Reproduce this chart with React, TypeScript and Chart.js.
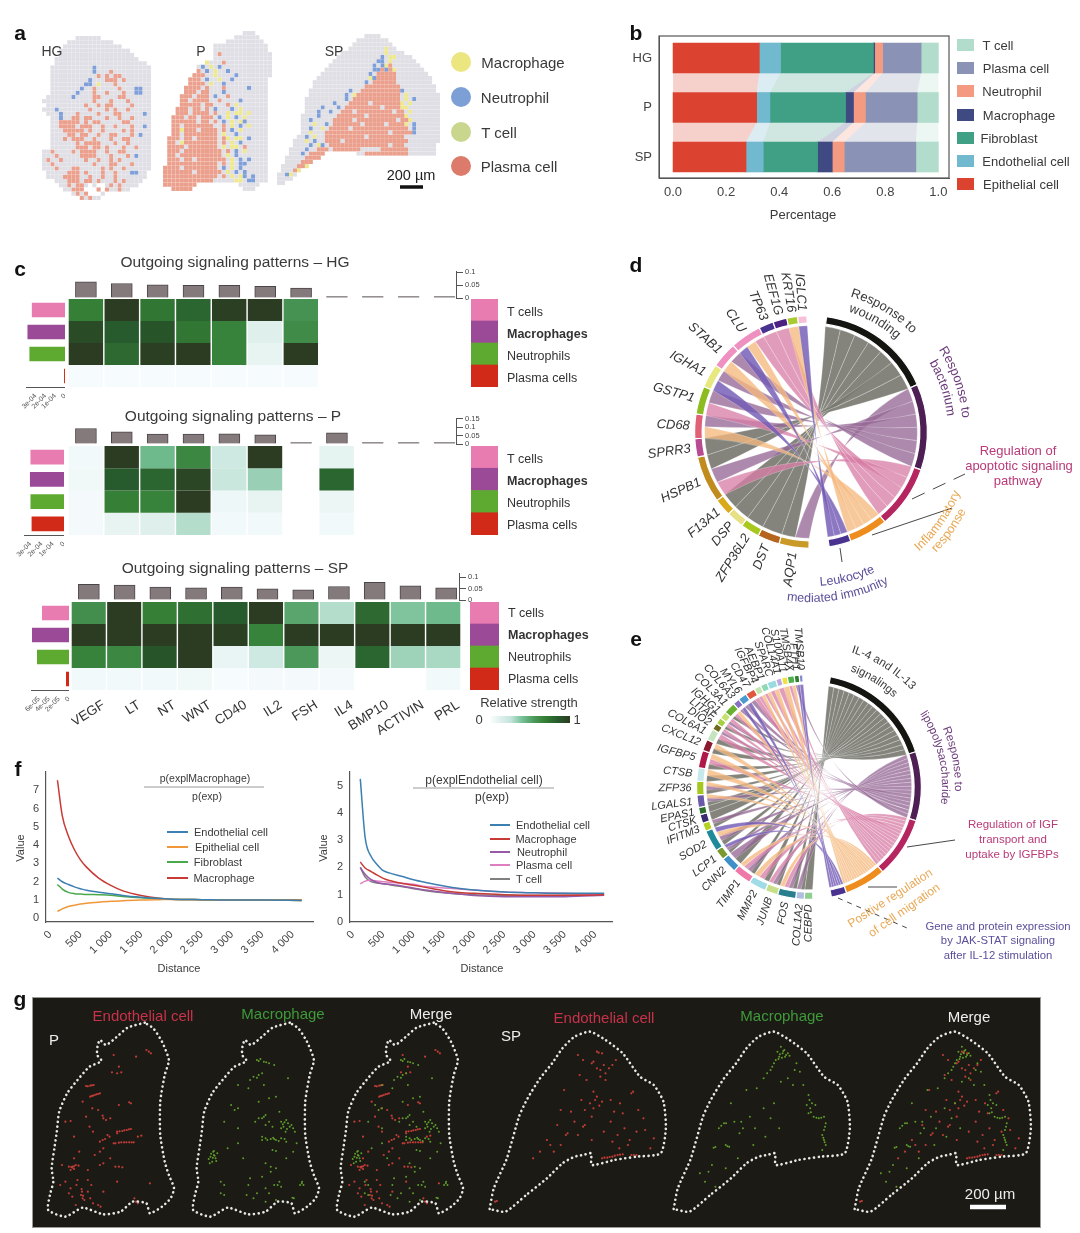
import React, { useEffect, useRef } from 'react';
import { Chart, registerables } from 'chart.js';

Chart.register(...registerables);
const FONT = '"Liberation Sans", Arial, sans-serif';
Chart.defaults.font.family = FONT;

/* ---------- a: spot maps (. tissue, p plasma, n neutrophil, m macrophage) ---------- */
const hgSpots = [
"        ......",
"      ...........",
"     ..............",
"    .................",
"    ..................",
"   ....................",
"   ......................",
"  ..........n.............",
"  ..........n...p.........",
"  ...........p.p.pp.......",
"  .........n...ppp.p......",
"  ........nn.m...p........",
"  .......n..p.....p...nn..",
"  ......n...p..p...p..nn..",
" ......n....pp....pp......",
"............p...p...p.....",
" .........p..p.pp....p....",
"...n.......p...p.p..p.....",
" ...n...p....p...pp.....n.",
"  ..n..pp.pp...p..p..p....",
"  ..ppppp.p.pp.....pp.....",
"  ..pppp.ppp..p..p...p..n.",
"  ...ppppp.p..p....p.p....",
"  ....pp.pp..p..pp...p.n..",
"  ...p.ppp..p...p..pp.....",
"  ......p.pppp...p..p.....",
"  ......ppp.pp.p...p..p...",
"..p....p.pppp..p..pp......",
"...p.....pppp...p...p.n...",
".p..p.....p..p..p.p.......",
"..p.........p...pp...p....",
"...p...pp.....p.p..p......",
" .....ppp.p...p..p...nn..",
" ....pppp..p..p..p.......",
"   ...ppp.pp.p...p.p....",
"    ..p.pp. .  .p.p....",
"     ..ppp   p p..p..",
"       .p.p   .",
"         p.p..",
];
const pSpots = [
"                   ...",
"                 ......",
"               .........",
"            .............",
"            .............",
"            .p............",
"            ..............",
"          m...p...........",
"        .n.m.n............",
"        p.n.m..n..........",
"       ppp..m....n........",
"      ppp.n..m..n........",
"      pppp.m..n..........",
"     pppp.p...p.....n....",
"     ppp.pp...n..........",
"    ppp.ppp.n..p.........",
"    pp.pppp..p....n......",
"    ppppp.pp...p.m.......",
"   ppp.pp.p.n...n.m......",
"   ppp.pppp.p..m.mm.m....",
"  ppp.pp.ppp.n.m.n.m.....",
"  pppppp.pp.p.n.m.mn.....",
"  pp.ppppppp..p.m.n.m....",
"  ppmppp.pppp.p.n.m......",
"  pp.pppppppp.m..n.......",
" ppp.pp.ppppp.pm.mm.n....",
" pp.mpppppppp.p.m.n......",
" pppp.ppppppp.m.mm.p.....",
" ppp.ppppppppp.p.n.m.....",
" pp.pppppppppp.m.n.......",
" ppp.pp.ppppppp.m.n.n....",
" pppppppppppp.p.m.nn.....",
"pppp.pppppppp.n.m.n......",
"ppppppp.pppppp.m.n.n.....",
"ppppppppppppp.p.m.mn.n...",
"pppppppppppp.....mm.nn...",
"pppppppp          .....",
"  ppppp            ...",
];
const spSpots = [
"                      ....",
"                    ........",
"                   ..........",
"                  .........m..",
"                ...........m....",
"               ...........n.mm....",
"              ...........nn.m......",
"             ...........n.nmp.......",
"            ............nnpnpm.......",
"           ............n.ppppp........",
"          .............mnppppp.........",
"         .............n.pppppp.........",
"         .............ppppppppp.........",
"        ..........n..ppppppppppn........",
"        .........n.mppppppppppp.m........",
"       ..........n.pppppppppppp.m.n......",
"       .......n...ppppp.pppppppm.m.......",
"       ....n...n.ppppppppp.ppppmm........",
"       ...n..n..ppp.ppppppppp.pp.m.......",
"      ....n....ppppppp.pppppppppm........",
"      ..n.....ppppp.pppppppppp.ppm.......",
"      ...m..n.ppppppp.ppppp.ppppm.n......",
"      ..n..m.ppppp.pppppppppppppp.n......",
"      ..m...pppppppppppppppp.pppppn......",
"     ..n.m..pppppppppp.ppppppppp.........",
"    ...m.n..pppp.pppppppppppppppp........",
"    ....n.mn.ppppppppppppppp.ppp........",
"   ....n..ppp.ppppppp.....ppppppp.......",
"   ...n.pppp        ..ppppppppppp.......",
"  .....pppp",
"  ....ppp",
" ....ppm",
" ...pm",
"..nm.",
"....",
"..",
];
const spotKinds = ['.', 'p', 'n', 'm'];
const spotColors = ['#dfdfe5', '#eb9f8d', '#7f9fd8', '#eee88e'];

/* ---------- b ---------- */
const bTissues = ['HG', 'P', 'SP'];
const bCellTypes = ['Epithelial cell', 'Endothelial cell', 'Fibroblast', 'Macrophage', 'Neutrophil', 'Plasma cell', 'T cell'];
const bHG = [0.325, 0.08, 0.35, 0.005, 0.03, 0.145, 0.065];
const bP = [0.315, 0.05, 0.285, 0.03, 0.045, 0.195, 0.08];
const bSP = [0.275, 0.065, 0.205, 0.055, 0.045, 0.27, 0.085];
const bColors = ['#dc4230', '#70b9cf', '#3fa085', '#3f4a82', '#f49a80', '#8a93b5', '#b2dccb'];
const bTicks = [0, 0.2, 0.4, 0.6, 0.8, 1];

/* ---------- c ---------- */
const signals = ['VEGF', 'LT', 'NT', 'WNT', 'CD40', 'IL2', 'FSH', 'IL4', 'BMP10', 'ACTIVIN', 'PRL'];
const rowNames = ['T cells', 'Macrophages', 'Neutrophils', 'Plasma cells'];
const rowColors = ['#e87bb0', '#9b4a97', '#5eaa30', '#d22a18'];
const hgMatrix = [
  [0.68, 1, 0.72, 0.8, 0.98, 1, 0.58],
  [0.92, 0.85, 0.88, 0.72, 0.66, 0.12, 0.62],
  [1, 0.78, 0.98, 1, 0.66, 0.08, 1],
  [0.01, 0.01, 0.01, 0.01, 0.01, 0.01, 0.01],
];
const pMatrix = [
  [0.03, 1, 0.42, 0.64, 0.2, 1, null, 0.09],
  [0.04, 0.85, 0.8, 0.95, 0.22, 0.33, null, 0.8],
  [0.02, 0.68, 0.66, 1, 0.05, 0.08, null, 0.06],
  [0.02, 0.08, 0.12, 0.28, 0.03, 0.03, null, 0.03],
];
const spMatrix = [
  [0.6, 1, 0.68, 0.75, 0.85, 1, 0.5, 0.28, 0.78, 0.38, 0.42],
  [1, 1, 1, 1, 0.98, 0.66, 1, 1, 1, 1, 1],
  [0.66, 0.64, 0.88, 1, 0.07, 0.2, 0.55, 0.06, 0.8, 0.32, 0.3],
  [0.03, 0.03, 0.03, 0.04, 0.01, 0.02, 0.02, 0.02, null, null, 0.03],
];
const hgTop = [0.062, 0.056, 0.051, 0.049, 0.049, 0.045, 0.038, 0, 0, 0, 0];
const pTop = [0.091, 0.071, 0.058, 0.058, 0.06, 0.054, 0, 0.065, 0, 0, 0];
const spTop = [0.068, 0.065, 0.056, 0.053, 0.056, 0.049, 0.044, 0.059, 0.077, 0.062, 0.053];
const hgTopTicks = [0, 0.05, 0.1];
const pTopTicks = [0, 0.05, 0.1, 0.15];
const hgLeft = [3.4e-4, 3.85e-4, 3.65e-4, 0.1e-4];
const pLeft = [3.0e-4, 3.05e-4, 3.0e-4, 2.9e-4];
const spLeft = [5.4e-5, 7.4e-5, 6.4e-5, 0.6e-5];
const hgLeftTicks = [0, 1e-4, 2e-4, 3e-4];
const spLeftTicks = [0, 2e-5, 4e-5, 6e-5];
const heatStops: [number, string][] = [
  [0, '#f8fcfe'], [0.1, '#e3f2ef'], [0.25, '#c4e4da'], [0.4, '#74bf94'], [0.55, '#4b985a'],
  [0.68, '#357f36'], [0.85, '#275a2c'], [1, '#2c3c22'],
];

/* ---------- d ---------- */
const dTerms = ['Response to wounding', 'Response to bacterium', 'Regulation of apoptotic signaling pathway', 'Inflammatory response', 'Leukocyte mediated immunity'];
const dTermSizes = [58.3, 43, 31.6, 19.4, 11];
const dGenes = ['AQP1', 'DST', 'ZFP36L2', 'DSP', 'F13A1', 'HSPB1', 'SPRR3', 'CD68', 'GSTP1', 'IGHA1', 'STAB1', 'CLU', 'TP63', 'EEF1G', 'KRT16', 'IGLC1'];
const dGeneSizes = [15, 11, 9.5, 8.7, 8.8, 23.5, 9.2, 12.3, 14, 12, 13, 15.6, 7.4, 7, 5.4, 4.6];
const dGeneColors = ['#c99a28', '#b5651d', '#a8c81e', '#e8e085', '#d9a91a', '#c08c1e', '#b84a92', '#e06078', '#8cbc20', '#e8e880', '#ee90c0', '#ee90c0', '#4a3291', '#4a2080', '#a8cc30', '#f8c0d8'];
const dLinks = ['10', '0', '0', '0', '0', '210', '0', '31', '21', '41', '31', '432', '2', '2', '3', '4'];

/* ---------- e ---------- */
const eTerms = ['IL-4 and IL-13 signalings', 'Response to lipopolysaccharide', 'Regulation of IGF transport and uptake by IGFBPs', 'Positive regulation of cell migration', 'Gene and protein expression by JAK-STAT signaling after IL-12 stimulation'];
const eTermSizes = [60.7, 35.8, 31.5, 21.5, 8];
const eGenes = ['CEBPD', 'COL1A2', 'FOS', 'JUNB', 'MMP2', 'TIMP1', 'CNN2', 'LCP1', 'SOD2', 'IFITM3', 'CTSK', 'EPAS1', 'LGALS1', 'ZFP36', 'CTSB', 'IGFBP5', 'CXCL12', 'COL6A1', 'DIO2', 'LITAF', 'IGHG1', 'COL3A1', 'COL6A3', 'MYL6', 'CD47', 'IGFBP4', 'AEBP1', 'SPARC', 'COL14A1', 'S100A11', 'TMSB4X', 'FTH1', 'TMSB10'];
const eGeneSizes = [4.4, 4.4, 9.5, 6.6, 9.1, 9.7, 8.3, 5.6, 11.2, 4.4, 4.6, 3.7, 6.5, 7, 7, 9, 6, 6, 3.5, 3.5, 3.8, 6, 3.5, 4.5, 5, 3.6, 3.6, 4.8, 3, 3, 3.6, 2.6, 1.8];
const eGeneColors = ['#8fcf8f', '#b0bde0', '#2a7f8f', '#c8de88', '#a0dce6', '#f078a8', '#3f90c8', '#7a9a30', '#1f8a9a', '#b5d020', '#3a2a70', '#2d6e2d', '#6a58a8', '#a5c81e', '#c5e8ea', '#b01848', '#8a1a30', '#c5e5c0', '#6e6a20', '#a5d040', '#c8e070', '#6ab030', '#8a70c0', '#4a9ad0', '#e05840', '#c5e5b0', '#8fd8b8', '#98dce0', '#c0a8e0', '#f0e040', '#50b050', '#2f7f2f', '#8888d0'];
const eLinks = ['0', '01', '0123', '012', '023', '0123', '01', '014', '0134', '01', '0', '0', '013', '013', '03', '023', '03', '02', '12', '02', '12', '023', '14', '14', '12', '23', '23', '23', '2', '3', '23', '14', '4'];

const termRingColors = ['#141410', '#4e1f54', '#b5255f', '#ee8c1e', '#4a3291'];
const ribbonColors = ['rgba(122,121,114,0.92)', 'rgba(150,105,150,0.78)', 'rgba(215,125,165,0.76)', 'rgba(245,185,125,0.78)', 'rgba(115,90,180,0.82)'];

/* ---------- f ---------- */
const distance = [120, 200, 300, 400, 500, 600, 800, 1000, 1200, 1500, 1800, 2000, 2500, 3000, 3500, 4150];
const f1Endothelial = [2.2, 2.0, 1.85, 1.72, 1.62, 1.53, 1.43, 1.35, 1.25, 1.15, 1.08, 1.05, 1.02, 1.0, 1.0, 0.98];
const f1Epithelial = [0.38, 0.52, 0.65, 0.72, 0.78, 0.82, 0.88, 0.93, 0.96, 1.0, 1.02, 1.03, 1.02, 1.0, 1.0, 0.98];
const f1Fibroblast = [1.85, 1.6, 1.42, 1.35, 1.33, 1.31, 1.29, 1.26, 1.2, 1.13, 1.08, 1.05, 1.02, 1.0, 1.0, 0.98];
const f1Macrophage = [7.55, 5.6, 4.5, 3.75, 3.2, 2.8, 2.2, 1.8, 1.5, 1.25, 1.1, 1.05, 1.02, 1.0, 1.0, 1.0];
const f2Endothelial = [5.25, 3.1, 2.4, 2.1, 1.88, 1.8, 1.68, 1.55, 1.45, 1.32, 1.22, 1.17, 1.1, 1.07, 1.05, 1.05];
const f2Macrophage = [2.2, 1.98, 1.85, 1.72, 1.6, 1.52, 1.42, 1.35, 1.27, 1.15, 1.07, 1.05, 1.0, 0.98, 0.98, 1.0];
const f2Neutrophil = [2.0, 1.75, 1.55, 1.45, 1.4, 1.38, 1.32, 1.25, 1.17, 1.08, 1.02, 0.97, 0.93, 0.93, 0.93, 0.98];
const f2Plasma = [1.4, 1.5, 1.53, 1.5, 1.48, 1.46, 1.42, 1.38, 1.3, 1.25, 1.2, 1.17, 1.1, 1.07, 1.05, 1.0];
const f2TCell = [2.0, 1.65, 1.48, 1.43, 1.4, 1.37, 1.3, 1.22, 1.15, 1.07, 1.02, 1.0, 0.98, 0.97, 0.98, 1.03];
const fXTicks = [0, 500, 1000, 1500, 2000, 2500, 3000, 3500, 4000];
const f1YTicks = [0, 1, 2, 3, 4, 5, 6, 7];
const f2YTicks = [0, 1, 2, 3, 4, 5];

/* ---------- g: tissue outlines and cell positions in section units ---------- */
const gOutlineP = [[420,113],[370,128],[345,150],[308,180],[290,165],[283,185],[282,210],[295,228],[260,245],[225,285],[195,325],[172,380],[165,440],[158,490],[150,550],[155,590],[145,630],[140,675],[190,695],[240,668],[300,688],[350,680],[385,650],[425,655],[435,685],[470,665],[495,640],[505,610],[490,570],[478,530],[465,450],[465,350],[478,270],[490,225],[470,170],[445,130],[420,113]];
const gOutlineSP = [[-146,672],[-134,610],[-96,520],[-61,395],[-36,340],[0,280],[35,235],[65,190],[100,155],[145,140],[190,165],[240,205],[290,275],[330,300],[358,350],[365,430],[350,505],[280,515],[215,525],[150,540],[148,505],[125,510],[100,515],[65,535],[20,580],[-40,630],[-100,680],[-146,672]];
const gRedP = [[425,195],[432,200],[438,205],[325,262],[340,265],[352,262],[250,303],[262,302],[272,300],[262,335],[270,332],[280,328],[290,325],[345,360],[380,355],[375,352],[268,370],[285,375],[298,392],[308,405],[260,425],[205,408],[215,455],[340,440],[355,438],[368,435],[380,432],[330,475],[345,473],[360,472],[375,472],[388,472],[400,455],[410,452],[290,470],[305,462],[312,450],[318,455],[300,490],[290,500],[275,510],[200,545],[210,548],[220,540],[228,542],[205,555],[335,545],[345,545],[355,547],[290,540],[300,535],[225,585],[222,600],[175,600],[200,625],[205,610],[238,620],[235,630],[240,640],[245,645],[220,660],[270,655],[285,660],[292,665],[390,640],[395,650],[400,655],[435,595],[265,600],[255,585],[255,555],[180,540],[345,245],[300,400],[340,445],[298,465],[210,545],[215,552],[237,612],[241,632],[255,304],[267,301],[266,333],[275,330],[285,327],[335,475],[352,472],[367,472],[382,472],[347,439],[361,436],[374,433],[207,546],[215,544],[190,410],[250,395],[270,440],[230,500],[215,520],[320,520],[255,620],[262,640],[210,635],[190,590],[340,590],[300,620],[330,210],[395,215],[240,350],[320,400]];
const gGreenP = [[325,225],[335,222],[345,230],[360,235],[375,240],[340,265],[330,270],[315,275],[305,285],[415,280],[270,370],[260,375],[270,300],[380,335],[360,340],[330,350],[350,390],[340,400],[330,400],[395,410],[405,412],[415,415],[425,420],[402,425],[412,432],[350,420],[370,425],[435,440],[340,455],[350,460],[365,462],[380,465],[395,460],[340,465],[370,495],[380,498],[410,470],[440,475],[200,510],[190,515],[205,520],[195,530],[185,522],[210,505],[198,500],[202,512],[192,506],[350,535],[365,545],[380,550],[220,590],[230,600],[220,625],[230,630],[305,580],[340,575],[385,600],[395,605],[455,595],[450,600],[460,600],[456,590],[380,645],[428,638],[432,640],[325,625],[315,640],[295,630],[350,650],[270,475],[240,490],[300,310],[320,410],[365,560],[400,418],[408,440],[360,410],[375,462],[388,468],[330,228],[352,232],[325,278],[345,395],[410,405],[420,425],[430,430],[395,430],[355,465],[372,458],[405,462],[197,518],[207,528],[188,535],[200,498],[375,600],[350,610],[300,600],[270,430],[285,520],[250,360],[230,410],[410,520],[430,500],[390,590],[360,625],[345,300],[390,380]];
const gRedSP = [[165,200],[180,205],[150,235],[155,230],[185,240],[210,240],[190,265],[175,275],[135,285],[190,285],[265,325],[270,320],[155,320],[165,335],[145,355],[130,375],[180,350],[240,385],[215,380],[100,410],[130,420],[125,425],[80,445],[75,450],[70,315],[60,375],[30,480],[245,430],[225,450],[260,465],[255,480],[330,460],[300,400],[205,410],[150,395],[180,520],[195,518],[210,515],[225,510],[240,508],[265,510],[280,510],[230,490],[320,490],[60,480],[115,270],[220,225],[-130,650],[-125,648],[165,250],[175,255],[200,250],[110,210],[125,225],[155,370],[170,203],[187,518],[202,516],[217,512],[232,509],[272,510],[160,345],[172,362],[205,345],[232,355],[285,375],[120,345],[90,380],[50,420],[20,465],[110,450],[150,465],[185,440],[210,470],[280,440],[305,435],[-20,520],[0,500],[40,500]];
const gGreenSP = [[165,185],[155,200],[170,205],[180,210],[190,212],[160,215],[150,225],[145,235],[135,255],[125,265],[115,280],[210,235],[220,260],[205,255],[245,330],[240,360],[250,370],[255,355],[265,360],[245,385],[260,395],[275,400],[290,395],[295,415],[290,435],[285,450],[290,465],[295,480],[285,495],[0,415],[-15,430],[5,480],[15,485],[-30,488],[50,410],[45,445],[95,310],[65,315],[20,355],[90,430],[-70,565],[-45,560],[5,550],[-25,605],[145,355],[75,395],[165,290],[185,280],[175,195],[168,218],[248,345],[172,198],[162,208],[177,215],[185,205],[158,222],[140,245],[252,382],[268,398],[282,398],[293,425],[288,458],[292,472],[6,415],[-8,422],[10,484],[-25,486],[55,430],[30,410],[115,370],[135,400],[160,430],[120,455],[85,480],[40,520],[-35,540],[-55,590],[200,300],[230,300]];

/* ---------- helpers ---------- */
type Box = { x: number; y: number; w: number; h: number };
const GREY = '#444';
const fit = (n: number) => (s: any) => {
  if (s.isHorizontal()) s.height = n; else s.width = n;
  s.paddingLeft = s.paddingRight = s.paddingTop = s.paddingBottom = 0;
};
const setTicks = (list: number[]) => (s: any) => { s.ticks = list.map((value) => ({ value })); };
const base = (extra: any) => ({
  responsive: false, maintainAspectRatio: false, animation: false,
  layout: { autoPadding: false, padding: 0 },
  ...extra,
  plugins: { legend: { display: false }, tooltip: { enabled: false }, ...(extra.plugins || {}) },
});
function heat(v: number) {
  for (let i = 1; i < heatStops.length; i++) {
    if (v <= heatStops[i][0]) {
      const [a, ca] = heatStops[i - 1];
      const [b, cb] = heatStops[i];
      const t = (v - a) / (b - a);
      const ch = (c: string, k: number) => parseInt(c.slice(k, k + 2), 16);
      const m = [1, 3, 5].map((k) => Math.round(ch(ca, k) + (ch(cb, k) - ch(ca, k)) * t));
      return `rgb(${m.join(',')})`;
    }
  }
  return heatStops[heatStops.length - 1][1];
}
const expLabel = (v: number) => {
  if (v === 0) return '0';
  const [m, e] = v.toExponential(0).split('e-');
  return `${m}e-${e.padStart(2, '0')}`;
};

/* a */
function spotConfig(rows: string[]) {
  const cols = Math.max(...rows.map((r) => r.length));
  const datasets = spotKinds.map((k, i) => {
    const data: { x: number; y: number }[] = [];
    rows.forEach((row, r) => [...row].forEach((c, x) => { if (c === k) data.push({ x, y: r }); }));
    return { data, pointStyle: 'rect', pointRadius: 2.9, pointBorderWidth: 0, backgroundColor: spotColors[i], clip: false };
  });
  return {
    type: 'scatter', data: { datasets },
    options: base({ scales: {
      x: { type: 'linear', display: false, min: -0.5, max: cols - 0.5 },
      y: { type: 'linear', display: false, min: -0.5, max: rows.length - 0.5, reverse: true },
    } }),
  };
}

/* b */
const flowBands = {
  id: 'flowBands',
  beforeDatasetsDraw(chart: any) {
    const { ctx } = chart;
    chart.data.datasets.forEach((ds: any, i: number) => {
      const els = chart.getDatasetMeta(i).data;
      ctx.save();
      ctx.globalAlpha = 0.25;
      ctx.fillStyle = ds.backgroundColor;
      for (let k = 0; k < els.length - 1; k++) {
        const a = els[k]; const b = els[k + 1];
        ctx.beginPath();
        ctx.moveTo(a.base, a.y + a.height / 2);
        ctx.lineTo(a.x, a.y + a.height / 2);
        ctx.lineTo(b.x, b.y - b.height / 2);
        ctx.lineTo(b.base, b.y - b.height / 2);
        ctx.closePath();
        ctx.fill();
      }
      ctx.restore();
    });
  },
  afterDraw(chart: any) {
    const { ctx, chartArea: a } = chart;
    ctx.save();
    ctx.strokeStyle = '#555';
    ctx.lineWidth = 1.2;
    ctx.strokeRect(a.left, a.top, a.right - a.left, a.bottom - a.top);
    ctx.restore();
  },
};
function stackConfig() {
  const columns = [bHG, bP, bSP];
  return {
    type: 'bar',
    data: { datasets: bCellTypes.map((label, i) => ({
      label, backgroundColor: bColors[i], barThickness: 30, grouped: false,
      data: columns.map((c, k) => ({ x: c[i], y: k })),
    })) },
    plugins: [flowBands],
    options: base({
      indexAxis: 'y',
      layout: { autoPadding: false, padding: { top: 6, right: 6 } },
      scales: {
        x: { type: 'linear', stacked: true, min: -0.053, max: 1.04, afterFit: fit(52), afterBuildTicks: setTicks(bTicks),
          grid: { display: false, tickLength: 4, tickColor: '#555' }, border: { color: '#555' },
          ticks: { autoSkip: false, font: { size: 13 }, color: GREY, padding: 3, maxRotation: 0, callback: (v: number) => v.toFixed(1) } },
        y: { type: 'linear', offset: false, stacked: true, min: -0.444, max: 2.424, reverse: true, afterFit: fit(34), afterBuildTicks: setTicks([0, 1, 2]),
          grid: { display: false, offset: false, tickLength: 4, tickColor: '#555' }, border: { color: '#555' },
          ticks: { autoSkip: false, font: { size: 13 }, color: GREY, padding: 3, callback: (v: number) => bTissues[v] } },
      },
    }),
  };
}

/* c */
function heatConfig(matrix: (number | null)[][], showLabels: boolean) {
  return {
    type: 'bar',
    data: { labels: signals, datasets: matrix.map((row, r) => ({
      data: row.map((v) => (v == null ? null : [r, r + 1])),
      backgroundColor: row.map((v) => heat(v ?? 0)),
      grouped: false, barPercentage: 0.96, categoryPercentage: 1,
    })) },
    options: base({ scales: {
      x: { type: 'category', display: showLabels, afterFit: fit(showLabels ? 48 : 0), grid: { display: false, drawTicks: false }, border: { display: false },
        ticks: { autoSkip: false, minRotation: 32, maxRotation: 32, labelOffset: 15, padding: 7, font: { size: 13.5 }, color: '#333' } },
      y: { type: 'linear', display: false, min: 0, max: 4, reverse: true },
    } }),
  };
}
function topConfig(values: number[], xMax: number, yMax: number, ticks: number[]) {
  return {
    type: 'bar',
    data: { datasets: [{
      data: values.map((y, i) => ({ x: i + 0.5, y })),
      backgroundColor: '#857a7b', borderColor: '#4a4548', borderWidth: 1, barThickness: 21, minBarLength: 1.5,
    }] },
    options: base({
      layout: { autoPadding: false, padding: { top: 5, bottom: 5 } },
      scales: {
        x: { type: 'linear', display: false, offset: false, min: 0, max: xMax },
        y: { type: 'linear', position: 'right', min: 0, max: yMax, afterFit: fit(30), afterBuildTicks: setTicks(ticks), grid: { drawOnChartArea: false, tickLength: 7, tickColor: '#555' }, border: { color: '#555' },
          ticks: { autoSkip: false, font: { size: 7.5 }, color: '#444', padding: 2, callback: (v: number) => String(+v.toFixed(2)) } },
      },
    }),
  };
}
function leftConfig(values: number[], xMax: number, ticks: number[], padLeft: number) {
  return {
    type: 'bar',
    data: { labels: rowNames, datasets: [{ data: values, backgroundColor: rowColors, barPercentage: 0.66, categoryPercentage: 1 }] },
    options: base({
      indexAxis: 'y',
      layout: { autoPadding: false, padding: { left: padLeft } },
      scales: {
        x: { type: 'linear', min: 0, max: xMax, reverse: true, afterFit: fit(32), afterBuildTicks: setTicks(ticks), grid: { display: false, tickLength: 3, tickColor: '#555' }, border: { color: '#555' },
          ticks: { autoSkip: false, minRotation: 45, maxRotation: 45, font: { size: 7 }, color: '#555', padding: 2, callback: expLabel } },
        y: { type: 'category', display: false },
      },
    }),
  };
}
function rowConfig(labelOffset: number) {
  return {
    type: 'bar',
    data: { labels: rowNames, datasets: [{ data: rowNames.map(() => 1), backgroundColor: rowColors, barPercentage: 1, categoryPercentage: 1 }] },
    options: base({
      indexAxis: 'y',
      scales: {
        x: { type: 'linear', display: false, min: 0, max: 1 },
        y: { type: 'category', position: 'right', afterFit: fit(100), grid: { display: false, drawTicks: false }, border: { display: false },
          ticks: { autoSkip: false, labelOffset, color: '#333', padding: 9, font: (c: any) => ({ size: 12.5, weight: c.index === 1 ? 'bold' : 'normal' }) } },
      },
    }),
  };
}

/* d, e */
function chordPlugin(links: string[], nTerms: number, labelFont: string, ribbonGap: number) {
  return {
    id: 'chord',
    beforeDatasetsDraw(chart: any) {
      const arcs = chart.getDatasetMeta(0).data;
      const { ctx } = chart;
      const { x: cx, y: cy, innerRadius } = arcs[0];
      const r = innerRadius - ribbonGap;
      const geneArc = (i: number) => arcs[nTerms + 1 + i];
      const counts = new Array(nTerms).fill(0);
      links.forEach((l) => [...l].forEach((c) => { counts[+c]++; }));
      const used = new Array(nTerms).fill(0);
      const ribbons: { t: number; a0: number; a1: number; b0: number; b1: number }[] = [];
      links.forEach((l, i) => {
        const g = geneArc(i);
        const w = (g.endAngle - g.startAngle) / l.length;
        [...l].forEach((c, j) => {
          const t = +c;
          const tw = (arcs[t].endAngle - arcs[t].startAngle) / counts[t];
          const b0 = arcs[t].startAngle + tw * used[t]++;
          ribbons.push({ t, a0: g.startAngle + w * j, a1: g.startAngle + w * (j + 1), b0, b1: b0 + tw });
        });
      });
      ctx.save();
      ctx.lineWidth = 0.4;
      ctx.strokeStyle = 'rgba(255,255,255,0.6)';
      ribbons.sort((p, q) => p.t - q.t).forEach((p) => {
        const tm = (arcs[p.t].startAngle + arcs[p.t].endAngle) / 2;
        const hx = cx + 0.16 * r * Math.cos(tm);
        const hy = cy + 0.16 * r * Math.sin(tm);
        ctx.beginPath();
        ctx.arc(cx, cy, r, p.a0, p.a1);
        ctx.quadraticCurveTo(hx, hy, cx + r * Math.cos(p.b1), cy + r * Math.sin(p.b1));
        ctx.arc(cx, cy, r, p.b1, p.b0, true);
        ctx.quadraticCurveTo(hx, hy, cx + r * Math.cos(p.a0), cy + r * Math.sin(p.a0));
        ctx.closePath();
        ctx.fillStyle = ribbonColors[p.t];
        ctx.fill();
        ctx.stroke();
      });
      ctx.restore();
    },
    afterDraw(chart: any) {
      const arcs = chart.getDatasetMeta(0).data;
      const { ctx } = chart;
      const names = chart.data.labels;
      ctx.save();
      ctx.font = labelFont;
      ctx.fillStyle = '#333';
      ctx.textAlign = 'right';
      ctx.textBaseline = 'middle';
      links.forEach((_, i) => {
        const g = arcs[nTerms + 1 + i];
        const a = (g.startAngle + g.endAngle) / 2;
        const rad = g.outerRadius + 5;
        ctx.save();
        ctx.translate(g.x + rad * Math.cos(a), g.y + rad * Math.sin(a));
        ctx.rotate(a + Math.PI);
        ctx.fillText(names[nTerms + 1 + i], 0, 0);
        ctx.restore();
      });
      ctx.restore();
    },
  };
}
function chordConfig(terms: string[], termSizes: number[], genes: string[], geneSizes: number[], geneColors: string[], links: string[], rotation: number, gapA: number, cutout: string, padding: any, labelFont: string) {
  const used = termSizes.concat(geneSizes).reduce((s, v) => s + v, 0) + gapA;
  const clear = 'rgba(0,0,0,0)';
  return {
    type: 'doughnut',
    data: {
      labels: [...terms, '', ...genes, ''],
      datasets: [{
        data: [...termSizes, gapA, ...geneSizes, 360 - used],
        backgroundColor: [...termRingColors, clear, ...geneColors, clear],
        borderColor: [...terms.map(() => '#fff'), clear, ...genes.map(() => '#fff'), clear],
        borderWidth: 1.2,
      }],
    },
    plugins: [chordPlugin(links, terms.length, labelFont, 2.5)],
    options: base({ rotation, cutout, layout: { autoPadding: false, padding } }),
  };
}

/* f */
function lineConfig(series: { label: string; color: string; data: number[] }[], xMin: number, xMax: number, yMin: number, yMax: number, yTicks: number[]) {
  return {
    type: 'line',
    data: { datasets: series.map((s) => ({
      label: s.label, borderColor: s.color, borderWidth: 1.5, pointRadius: 0, cubicInterpolationMode: 'monotone',
      data: distance.map((x, i) => ({ x, y: s.data[i] })),
    })) },
    options: base({
      layout: { autoPadding: false, padding: { top: 5, right: 6 } },
      scales: {
        x: { type: 'linear', min: xMin, max: xMax, afterFit: fit(36), afterBuildTicks: setTicks(fXTicks), grid: { display: false, tickLength: 4, tickColor: '#555' }, border: { color: '#555', width: 1.2 },
          ticks: { autoSkip: false, minRotation: 45, maxRotation: 45, font: { size: 11 }, color: GREY, padding: 2, callback: (v: number) => (v >= 1000 ? `${Math.floor(v / 1000)} ${String(v % 1000).padStart(3, '0')}` : String(v)) } },
        y: { type: 'linear', min: yMin, max: yMax, afterFit: fit(24), afterBuildTicks: setTicks(yTicks), grid: { display: false, tickLength: 4, tickColor: '#555' }, border: { color: '#555', width: 1.2 },
          ticks: { autoSkip: false, font: { size: 11 }, color: GREY, padding: 3 } },
      },
    }),
  };
}

/* g */
const gDark = {
  red: '#c23c37', green: '#5f9c2a',
};
function sectionConfig(outline: number[][], red: number[][] | null, green: number[][] | null, xMin: number, width: number) {
  const pts = (list: number[][]) => list.map(([x, y]) => ({ x, y }));
  const datasets: any[] = [{
    data: pts(outline), showLine: true, borderColor: '#e8e8e4', borderWidth: 2.6, borderDash: [0.1, 4.6], borderCapStyle: 'round', pointRadius: 0, tension: 0.2,
  }];
  if (green) datasets.push({ data: pts(green), pointRadius: 1, pointBorderWidth: 0, backgroundColor: gDark.green });
  if (red) datasets.push({ data: pts(red), pointRadius: 1.1, pointBorderWidth: 0, backgroundColor: gDark.red });
  return {
    type: 'scatter', data: { datasets },
    options: base({ scales: {
      x: { type: 'linear', display: false, min: xMin, max: xMin + width * 2.9 },
      y: { type: 'linear', display: false, min: 39, max: 726, reverse: true },
    } }),
  };
}

/* ---------- layout of the plots ---------- */
const plots: { box: Box; make: () => any; blur?: boolean }[] = [
  { box: { x: 42, y: 36, w: 109, h: 164 }, make: () => spotConfig(hgSpots), blur: true },
  { box: { x: 163, y: 31, w: 109, h: 160 }, make: () => spotConfig(pSpots), blur: true },
  { box: { x: 277, y: 34, w: 163, h: 151 }, make: () => spotConfig(spSpots), blur: true },
  { box: { x: 625, y: 30, w: 330, h: 200 }, make: stackConfig },

  { box: { x: 68, y: 299, w: 394, h: 88 }, make: () => heatConfig(hgMatrix, false) },
  { box: { x: 68, y: 266, w: 418, h: 37 }, make: () => topConfig(hgTop, 10.82, 0.104, hgTopTicks) },
  { box: { x: 5, y: 299, w: 60, h: 120 }, make: () => leftConfig(hgLeft, 4.0e-4, hgLeftTicks, 21) },
  { box: { x: 471, y: 299, w: 127, h: 88 }, make: () => rowConfig(3) },

  { box: { x: 68, y: 446, w: 394, h: 89 }, make: () => heatConfig(pMatrix, false) },
  { box: { x: 68, y: 413, w: 418, h: 36 }, make: () => topConfig(pTop, 10.82, 0.153, pTopTicks) },
  { box: { x: 5, y: 446, w: 59, h: 121 }, make: () => leftConfig(pLeft, 3.58e-4, hgLeftTicks, 19) },
  { box: { x: 471, y: 446, w: 127, h: 89 }, make: () => rowConfig(2) },

  { box: { x: 71, y: 602, w: 390, h: 136 }, make: () => heatConfig(spMatrix, true) },
  { box: { x: 71, y: 568, w: 418, h: 37 }, make: () => topConfig(spTop, 10.86, 0.118, hgTopTicks) },
  { box: { x: 5, y: 602, w: 64, h: 120 }, make: () => leftConfig(spLeft, 7.6e-5, spLeftTicks, 26) },
  { box: { x: 470, y: 602, w: 129, h: 88 }, make: () => rowConfig(1) },

  { box: { x: 620, y: 250, w: 460, h: 360 }, make: () => chordConfig(dTerms, dTermSizes, dGenes, dGeneSizes, dGeneColors, dLinks, 7.7, 10, '93.5%', { left: 74, right: 152, top: 65, bottom: 61 }, 'italic 13px ' + FONT) },
  { box: { x: 620, y: 615, w: 460, h: 360 }, make: () => chordConfig(eTerms, eTermSizes, eGenes, eGeneSizes, eGeneColors, eLinks, 11, 9.5, '93.5%', { left: 76, right: 158, top: 59, bottom: 75 }, 'italic 11px ' + FONT) },

  { box: { x: 22, y: 767, w: 297, h: 191 }, make: () => lineConfig([
    { label: 'Endothelial cell', color: '#3c7fb1', data: f1Endothelial },
    { label: 'Epithelial cell', color: '#f0973a', data: f1Epithelial },
    { label: 'Fibroblast', color: '#4aa84a', data: f1Fibroblast },
    { label: 'Macrophage', color: '#c83a36', data: f1Macrophage },
  ], -69, 4337, -0.2, 8, f1YTicks) },
  { box: { x: 326, y: 767, w: 292, h: 191 }, make: () => lineConfig([
    { label: 'Endothelial cell', color: '#3c7fb1', data: f2Endothelial },
    { label: 'Macrophage', color: '#c83a36', data: f2Macrophage },
    { label: 'Neutrophil', color: '#965aa8', data: f2Neutrophil },
    { label: 'Plasma cell', color: '#dd7fc0', data: f2Plasma },
    { label: 'T cell', color: '#7f7f7f', data: f2TCell },
  ], -50, 4280, 0, 5.5, f2YTicks) },

  { box: { x: 33, y: 998, w: 190, h: 229 }, make: () => sectionConfig(gOutlineP, gRedP, null, 96, 190) },
  { box: { x: 178, y: 998, w: 190, h: 229 }, make: () => sectionConfig(gOutlineP, null, gGreenP, 96, 190) },
  { box: { x: 322, y: 998, w: 190, h: 229 }, make: () => sectionConfig(gOutlineP, gRedP, gGreenP, 96, 190) },
  { box: { x: 485, y: 998, w: 190, h: 229 }, make: () => sectionConfig(gOutlineSP, gRedSP, null, -159.5, 190) },
  { box: { x: 669, y: 998, w: 190, h: 229 }, make: () => sectionConfig(gOutlineSP, null, gGreenSP, -159.5, 190) },
  { box: { x: 850, y: 998, w: 190, h: 229 }, make: () => sectionConfig(gOutlineSP, gRedSP, gGreenSP, -159.5, 190) },
];

/* ---------- text ---------- */
type Lab = [string, number, number, number, string, any?];
const INK = '#3a3a3a';
const PINK = '#b83a78'; const PURPLE = '#6b3a7a'; const ORANGE = '#e8a855'; const VIOLET = '#5a4f9a';
const labels: Lab[] = [
  ['a', 20, 32, 21, '#111', { b: 1 }], ['b', 636, 32, 21, '#111', { b: 1 }], ['c', 20, 268, 21, '#111', { b: 1 }],
  ['d', 636, 264, 21, '#111', { b: 1 }], ['e', 636, 638, 21, '#111', { b: 1 }], ['f', 18, 768, 21, '#111', { b: 1 }], ['g', 20, 998, 21, '#111', { b: 1 }],
  ['HG', 52, 51, 14, INK], ['P', 201, 51, 14, INK], ['SP', 334, 51, 14, INK],
  ['Macrophage', 523, 62, 15, INK], ['Neutrophil', 515, 97, 15, INK], ['T cell', 499, 132, 15, INK], ['Plasma cell', 519, 166, 15, INK],
  ['200 µm', 411, 175, 14.5, '#222'],
  ['T cell', 998, 45, 13, INK], ['Plasma cell', 1016, 68, 13, INK], ['Neutrophil', 1012, 91, 13, INK], ['Macrophage', 1019, 115, 13, INK],
  ['Fibroblast', 1009, 138, 13, INK], ['Endothelial cell', 1026, 161, 13, INK], ['Epithelial cell', 1021, 184, 13, INK],
  ['Percentage', 803, 214, 13, INK],
  ['Outgoing signaling patterns – HG', 235, 262, 15.5, INK], ['Outgoing signaling patterns – P', 233, 416, 15.5, INK], ['Outgoing signaling patterns – SP', 235, 568, 15.5, INK],
  ['Relative strength', 529, 702, 13, INK], ['0', 479, 719, 13, INK], ['1', 577, 719, 13, INK],
  ['Regulation of', 1018, 450, 13, PINK], ['apoptotic signaling', 1019, 465, 13, PINK], ['pathway', 1018, 480, 13, PINK],
  ['Regulation of IGF', 1013, 825, 11.5, PINK], ['transport and', 1013, 840, 11.5, PINK], ['uptake by IGFBPs', 1012, 855, 11.5, PINK],
  ['Positive regulation', 890, 898, 12, ORANGE, { r: -33 }], ['of cell migration', 904, 910, 12, ORANGE, { r: -35 }],
  ['Gene and protein expression', 998, 927, 11.3, VIOLET], ['by JAK-STAT signaling', 998, 941, 11.3, VIOLET], ['after IL-12 stimulation', 998, 956, 11.3, VIOLET],
  ['Value', 20, 848, 11, INK, { r: -90 }], ['Value', 323, 848, 11, INK, { r: -90 }], ['Distance', 179, 968, 11, INK], ['Distance', 482, 968, 11, INK],
  ['p(explMacrophage)', 205, 778, 10.5, INK], ['p(exp)', 207, 796, 10.5, INK], ['p(explEndothelial cell)', 484, 780, 12, INK], ['p(exp)', 492, 797, 12, INK],
  ['Endothelial cell', 231, 832, 11, INK], ['Epithelial cell', 227, 847, 11, INK], ['Fibroblast', 218, 862, 11, INK], ['Macrophage', 224, 878, 11, INK],
  ['Endothelial cell', 553, 825, 11, INK], ['Macrophage', 546, 839, 11, INK], ['Neutrophil', 542, 852, 11, INK], ['Plasma cell', 544, 865, 11, INK], ['T cell', 529, 879, 11, INK],
  ['Endothelial cell', 143, 1015, 15, '#c8324a'], ['Macrophage', 283, 1013, 15, '#3f9a3a'], ['Merge', 431, 1013, 15, '#eee'],
  ['Endothelial cell', 604, 1017, 15, '#c8324a'], ['Macrophage', 782, 1015, 15, '#3f9a3a'], ['Merge', 969, 1016, 15, '#eee'],
  ['P', 54, 1039, 15, '#eee'], ['SP', 511, 1035, 15, '#eee'], ['200 µm', 990, 1193, 15, '#eee'],
];
const legendDots: [number, number, string][] = [[461, 62, '#ece680'], [461, 97, '#7c9fd6'], [461, 132, '#c8d68e'], [461, 166, '#dc7a6c']];
const bLegendOrder = [6, 5, 4, 3, 2, 1, 0];
const bLegendY = [45, 68, 91, 115, 138, 161, 184];
const rules: [number, number, number, number, string, number, string?][] = [
  [912, 499, 965, 474, '#333', 0.9, '14 9'], [872, 535, 952, 508, '#333', 0.9], [840, 548, 842, 562, '#333', 0.9],
  [907, 847, 955, 840, '#333', 0.9], [868, 887, 897, 887, '#333', 0.9], [838, 898, 907, 928, '#333', 0.9, '5 5'],
  [144, 787, 264, 787, '#999', 1], [413, 788, 554, 788, '#999', 1],
  [400, 187, 423, 187, '#111', 3.5], [970, 1207, 1006, 1207, '#fff', 4.5],
  [167, 832, 188, 832, '#3c7fb1', 2], [167, 847, 188, 847, '#f0973a', 2], [167, 862, 188, 862, '#4aa84a', 2], [167, 878, 188, 878, '#c83a36', 2],
  [490, 825, 510, 825, '#3c7fb1', 2], [490, 839, 510, 839, '#c83a36', 2], [490, 852, 510, 852, '#965aa8', 2], [490, 865, 510, 865, '#dd7fc0', 2], [490, 879, 510, 879, '#7f7f7f', 2],
];
/* curved labels: text, centre, radius, from/to angle clockwise from the top */
const curved: [string, number, number, number, number, number, string, number][] = [
  ['Response to', 811, 432, 141, 16, 46, INK, 13], ['wounding', 811, 432, 126, 16, 44, INK, 13],
  ['Response to', 811, 432, 152, 57, 85, PURPLE, 13], ['bacterium', 811, 432, 137, 60, 83, PURPLE, 13],
  ['Inflammatory', 811, 432, 161, 139, 111, ORANGE, 12.5], ['response', 811, 432, 174, 135, 116, ORANGE, 12.5],
  ['Leukocyte', 811, 432, 154, 178, 154, VIOLET, 12.5], ['mediated immunity', 811, 432, 170, 190, 151, VIOLET, 12.5],
  ['IL-4 and IL-13', 809, 787, 141, 18, 46, INK, 11.5], ['signalings', 809, 787, 123, 20, 43, INK, 11.5],
  ['Response to', 809, 787, 146, 67, 91, PURPLE, 11.5], ['lipopolysaccharide', 809, 787, 133, 57, 97, PURPLE, 11.5],
];
function arcPath(cx: number, cy: number, r: number, a0: number, a1: number) {
  const cw = a1 > a0;
  const s = ((a0 + (cw ? -15 : 15)) * Math.PI) / 180;
  const e = ((a1 + (cw ? 15 : -15)) * Math.PI) / 180;
  const pt = (a: number) => `${(cx + r * Math.sin(a)).toFixed(1)} ${(cy - r * Math.cos(a)).toFixed(1)}`;
  return `M ${pt(s)} A ${r} ${r} 0 0 ${cw ? 1 : 0} ${pt(e)}`;
}

function Plot({ box, make, blur }: { box: Box; make: () => any; blur?: boolean }) {
  const ref = useRef<HTMLCanvasElement>(null);
  useEffect(() => {
    const chart = new Chart(ref.current as any, make());
    return () => chart.destroy();
  }, []);
  return <canvas ref={ref} width={box.w} height={box.h} style={{ position: 'absolute', left: box.x, top: box.y, width: box.w, height: box.h, filter: blur ? 'blur(0.7px)' : undefined }} />;
}

export default function App() {
  const gradient = `linear-gradient(to right, ${heatStops.map(([p, c]) => `${c} ${p * 100}%`).join(', ')})`;
  return (
    <div style={{ position: 'absolute', left: 0, top: 0, width: 1080, height: 1233, background: '#fff', overflow: 'hidden', fontFamily: FONT }}>
      <div style={{ position: 'absolute', left: 33, top: 998, width: 1007, height: 229, background: '#1b1a15', boxShadow: '0 0 0 1px #9a9a96' }} />
      {plots.map((p, i) => <Plot key={i} box={p.box} make={p.make} blur={p.blur} />)}
      {legendDots.map(([x, y, c], i) => (
        <div key={i} style={{ position: 'absolute', left: x - 10, top: y - 10, width: 20, height: 20, borderRadius: 10, background: c }} />
      ))}
      {bLegendOrder.map((k, i) => (
        <div key={i} style={{ position: 'absolute', left: 957, top: bLegendY[i] - 6, width: 17, height: 12, background: bColors[k] }} />
      ))}
      <div style={{ position: 'absolute', left: 491, top: 716, width: 79, height: 7, background: gradient }} />
      <svg width={1080} height={1233} style={{ position: 'absolute', left: 0, top: 0, pointerEvents: 'none' }}>
        {rules.map(([x1, y1, x2, y2, c, w, d], i) => <line key={i} x1={x1} y1={y1} x2={x2} y2={y2} stroke={c} strokeWidth={w} strokeDasharray={d} />)}
        <defs>
          {curved.map(([, cx, cy, r, a0, a1], i) => <path key={i} id={`cv${i}`} d={arcPath(cx, cy, r, a0, a1)} />)}
        </defs>
        {curved.map(([t, , , , , , c, s], i) => (
          <text key={i} fontSize={s} fill={c} fontFamily={FONT}>
            <textPath href={`#cv${i}`} startOffset="50%" textAnchor="middle">{t}</textPath>
          </text>
        ))}
      </svg>
      {labels.map(([t, x, y, s, c, o], i) => (
        <div key={i} style={{
          position: 'absolute', left: x, top: y, fontSize: s, color: c, whiteSpace: 'nowrap', lineHeight: 1,
          fontWeight: o?.b ? 'bold' : 'normal', transform: `translate(-50%,-50%) rotate(${o?.r ?? 0}deg)`,
        }}>{t}</div>
      ))}
    </div>
  );
}
